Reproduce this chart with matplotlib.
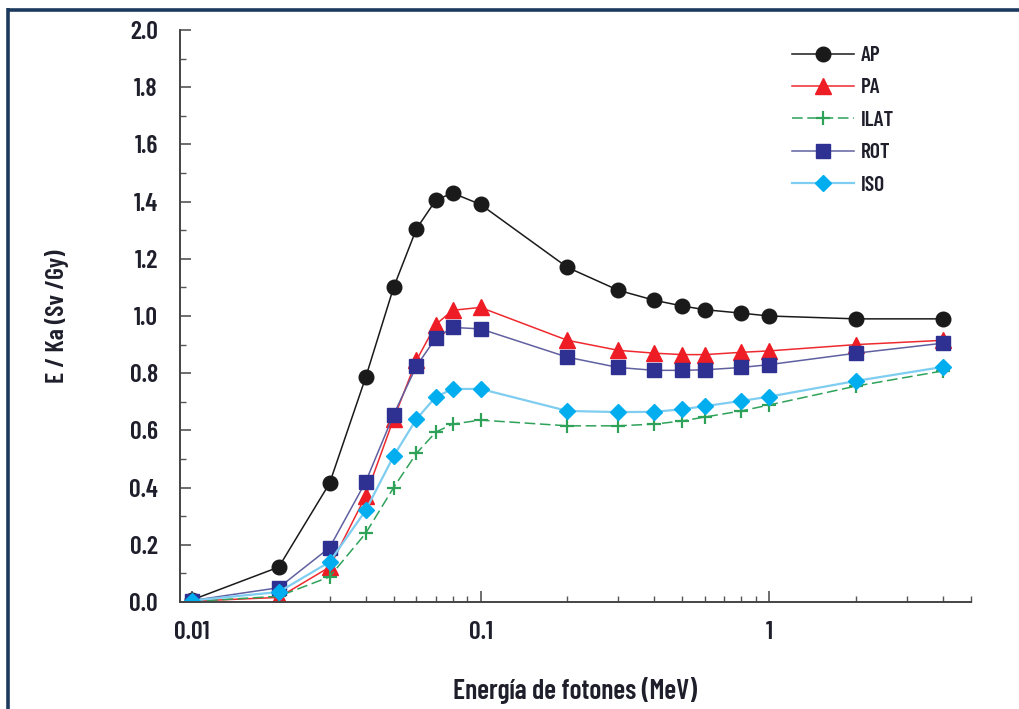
import matplotlib
matplotlib.use("Agg")
import matplotlib.pyplot as plt
from matplotlib.lines import Line2D
from matplotlib.ticker import FixedLocator, MultipleLocator, NullFormatter

plt.rcParams['font.family'] = ['Barlow Condensed', 'Sofia Sans Extra Condensed', 'DejaVu Sans']
plt.rcParams['font.weight'] = 'semibold'
plt.rcParams['axes.labelweight'] = 'semibold'

energy = [0.01, 0.02, 0.03, 0.04, 0.05, 0.06, 0.07, 0.08, 0.1, 0.2, 0.3, 0.4, 0.5, 0.6, 0.8, 1.0, 2.0, 4.0]
ap   = [0.007, 0.122, 0.415, 0.785, 1.10, 1.305, 1.405, 1.43, 1.39, 1.17, 1.09, 1.055, 1.035, 1.022, 1.01, 1.00, 0.99, 0.99]
pa   = [0.003, 0.016, 0.122, 0.37, 0.64, 0.845, 0.97, 1.02, 1.03, 0.915, 0.88, 0.87, 0.865, 0.865, 0.873, 0.878, 0.90, 0.915]
ilat = [0.002, 0.02, 0.088, 0.24, 0.40, 0.52, 0.594, 0.622, 0.636, 0.616, 0.616, 0.622, 0.633, 0.647, 0.668, 0.689, 0.755, 0.808]
rot  = [0.005, 0.05, 0.19, 0.42, 0.655, 0.825, 0.923, 0.96, 0.955, 0.856, 0.82, 0.81, 0.81, 0.812, 0.82, 0.83, 0.87, 0.905]
iso  = [0.005, 0.035, 0.14, 0.32, 0.51, 0.64, 0.717, 0.745, 0.745, 0.668, 0.664, 0.665, 0.674, 0.685, 0.703, 0.718, 0.773, 0.822]

labels = ['AP', 'PA', 'ILAT', 'ROT', 'ISO']
x_ticks = [0.01, 0.1, 1]
x_ticklabels = ['0.01', '0.1', '1']
y_ticks = [0.0, 0.2, 0.4, 0.6, 0.8, 1.0, 1.2, 1.4, 1.6, 1.8, 2.0]

txt = '#1f1f2c'

fig = plt.figure(figsize=(10.2, 7.09), dpi=100)
ax = fig.add_axes([180/1020, 1-602/709, (971-180)/1020, (602-30)/709])

styles = [
    dict(color='#1a1a1a', lw=1.1, ls='-', marker='o', ms=10.5, mfc='#1a1a1a', mec='#1a1a1a'),
    dict(color='#ee2a2f', lw=1.1, ls='-', marker='^', ms=11, mfc='#ee1c25', mec='#ee1c25'),
    dict(color='#2fa25a', lw=1.1, ls=(0, (7, 3)), marker='+', ms=10, mew=1.6, mfc='#2fa25a', mec='#2fa25a'),
    dict(color='#6060a0', lw=1.1, ls='-', marker='s', ms=9.5, mfc='#2e3192', mec='#2e3192'),
    dict(color='#7fcdf0', lw=1.6, ls='-', marker='D', ms=8.5, mfc='#00aeef', mec='#00aeef'),
]
series = [ap, pa, ilat, rot, iso]
for s, lab, st in zip(series, labels, styles):
    ax.plot(energy, s, label=lab, **st)

ax.set_xscale('log')
ax.set_xlim(0.0091, 5.0)
ax.set_ylim(0, 2.0)

ax.xaxis.set_major_locator(FixedLocator(x_ticks))
ax.set_xticklabels(x_ticklabels)
ax.xaxis.set_minor_locator(FixedLocator([0.02, 0.03, 0.04, 0.05, 0.06, 0.07, 0.08, 0.09,
                                         0.2, 0.3, 0.4, 0.5, 0.6, 0.7, 0.8, 0.9, 2, 3, 4, 5]))
ax.xaxis.set_minor_formatter(NullFormatter())
ax.set_yticks(y_ticks)
ax.set_yticklabels([f'{v:.1f}' for v in y_ticks])
ax.yaxis.set_minor_locator(MultipleLocator(0.1))

for sp in ['top', 'right']:
    ax.spines[sp].set_visible(False)
for sp in ['left', 'bottom']:
    ax.spines[sp].set_color('#444444')
    ax.spines[sp].set_linewidth(1.4)

ax.tick_params(which='major', direction='in', length=8, width=1.2, color='#555555',
               labelsize=18.5, labelcolor=txt)
ax.tick_params(which='minor', direction='in', length=4.5, width=1.0, color='#555555')
ax.tick_params(axis='y', which='major', pad=16)
ax.tick_params(axis='x', which='major', pad=14)

ax.set_ylabel('E / Ka (Sv /Gy)', fontsize=18.5, color=txt, fontweight='semibold')
ax.yaxis.label.set_va('center')
ax.yaxis.set_label_coords(-0.155, 0.5)
ax.set_xlabel('Energía de fotones (MeV)', fontsize=20, color=txt, fontweight='semibold')
ax.xaxis.label.set_va('center')
ax.xaxis.set_label_coords(0.499, -0.154)

leg = ax.legend(loc='upper left', bbox_to_anchor=(792/1020, 1-46/709),
                bbox_transform=fig.transFigure, frameon=False, fontsize=15.5,
                handlelength=2.9, handletextpad=0.3, labelspacing=0.62,
                borderpad=0, borderaxespad=0)
for t in leg.get_texts():
    t.set_color(txt)

border = '#1c3a5e'
fig.add_artist(Line2D([7/1020, 1.0], [1-9.5/709, 1-9.5/709], transform=fig.transFigure,
                      color=border, lw=2.6, solid_capstyle='butt'))
fig.add_artist(Line2D([8.5/1020, 8.5/1020], [0.0, 1-8/709], transform=fig.transFigure,
                      color=border, lw=2.6, solid_capstyle='butt'))

fig.savefig('out.png', dpi=100)
